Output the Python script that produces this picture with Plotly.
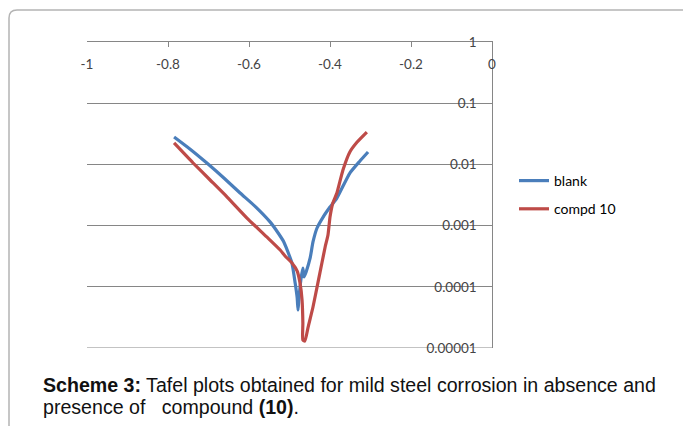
import plotly.graph_objects as go

# Potential (V) and current density (log scale)
blank_x = [-0.785, -0.746, -0.704, -0.662, -0.622, -0.583, -0.548, -0.528, -0.514, -0.501,
           -0.494, -0.486, -0.481, -0.479, -0.477, -0.472, -0.467, -0.464, -0.459, -0.449,
           -0.442, -0.432, -0.417, -0.400, -0.383, -0.351, -0.326, -0.306]
blank_y = [0.0281, 0.0179, 0.01054, 0.0060, 0.00341, 0.00201, 0.00115, 0.000757, 0.00054, 0.000331,
           0.000245, 0.000115, 6.56e-5, 4.18e-5, 6.08e-5, 0.000129, 0.000203, 0.000145, 0.000175, 0.000296,
           0.00054, 0.000914, 0.00138, 0.00201, 0.00282, 0.00723, 0.01137, 0.01595]

compd_x = [-0.785, -0.738, -0.696, -0.654, -0.605, -0.556, -0.523, -0.511, -0.494, -0.481,
           -0.474, -0.469, -0.467, -0.467, -0.462, -0.454, -0.442, -0.430, -0.420, -0.412,
           -0.405, -0.400, -0.393, -0.383, -0.368, -0.351, -0.333, -0.309]
compd_y = [0.0224, 0.01054, 0.00556, 0.00293, 0.00133, 0.000652, 0.000399, 0.000319, 0.000245, 0.000181,
           0.000115, 6.08e-5, 2.56e-5, 1.35e-5, 1.30e-5, 2.20e-5, 4.68e-5, 0.000115, 0.000245, 0.000447,
           0.000702, 0.00138, 0.00234, 0.00341, 0.0081, 0.01595, 0.0232, 0.0338]

x_ticks = [-1, -0.8, -0.6, -0.4, -0.2, 0]
x_ticktext = ["-1", "-0.8", "-0.6", "-0.4", "-0.2", "0"]
y_ticks = [1e-5, 1e-4, 1e-3, 1e-2, 1e-1, 1]
y_ticktext = ["0.00001", "0.0001", "0.001", "0.01", "0.1", "1"]

series_names = ["blank", "compd 10"]
colors = ["#4A7EBB", "#BE4B48"]

W, H = 683, 426
L, R, T, B = 87, 191, 42, 78
pw, ph = W - L - R, H - T - B

def px(x):
    return (x - L) / pw

def py(y):
    return (H - B - y) / ph

fig = go.Figure()
for name, xs, ys, c in zip(series_names, [blank_x, compd_x], [blank_y, compd_y], colors):
    fig.add_trace(go.Scatter(x=xs, y=ys, mode="lines", name=name, legendgroup=name,
                             line=dict(color=c, width=3.2, shape="spline", smoothing=0.5)))

axis_gray = "#868686"
fig.update_layout(
    width=W, height=H,
    margin=dict(l=L, r=R, t=T, b=B),
    paper_bgcolor="white", plot_bgcolor="white",
    font=dict(family="Lato, Open Sans, sans-serif", size=13.5, color="#000000"),
    xaxis=dict(range=[x_ticks[0], x_ticks[-1]], side="top", tickvals=x_ticks, ticktext=x_ticktext,
               ticks="inside", ticklen=5, tickcolor=axis_gray,
               ticklabelposition="inside", ticklabeloverflow="allow", ticklabelstandoff=12,
               showline=True, linecolor=axis_gray, linewidth=1,
               showgrid=False, zeroline=False),
    yaxis=dict(type="log", range=[-5, 0], side="right", tickvals=y_ticks, ticktext=y_ticktext,
               ticks="inside", ticklen=5, tickcolor=axis_gray,
               ticklabelposition="inside", ticklabeloverflow="allow", ticklabelstandoff=10,
               showline=True, linecolor=axis_gray, linewidth=1,
               showgrid=True, gridcolor=axis_gray, gridwidth=1, zeroline=False),
    legend=dict(x=px(514), y=0.5, xanchor="left", yanchor="middle",
                font=dict(size=14), tracegroupgap=7, bgcolor="rgba(0,0,0,0)"),
    showlegend=True,
)

# bottom gridline at the lowest decade (plotly omits it at the plot edge)
fig.add_shape(type="line", xref="x", yref="y", x0=x_ticks[0], x1=x_ticks[-1],
              y0=y_ticks[0], y1=y_ticks[0], line=dict(color=axis_gray, width=1), layer="below")

# caption
cap_font = dict(family="Liberation Sans, Arial, sans-serif", size=19.6, color="#111111")
fig.add_annotation(xref="paper", yref="paper", x=px(41), y=py(385), xanchor="left", yanchor="middle",
                   text="<b>Scheme 3:</b> Tafel plots obtained for mild steel corrosion in absence and",
                   showarrow=False, font=cap_font)
fig.add_annotation(xref="paper", yref="paper", x=px(41), y=py(407), xanchor="left", yanchor="middle",
                   text="presence of \u00a0 compound <b>(10)</b>.",
                   showarrow=False, font=cap_font)

# rounded frame
path = (f"M {px(9)},{py(440)} L {px(9)},{py(18)} Q {px(9)},{py(10)} {px(17)},{py(10)} "
        f"L {px(700)},{py(10)}")
fig.add_shape(type="path", xref="paper", yref="paper", path=path,
              line=dict(color="#b4b4b4", width=1.5))

fig.write_html("out.html")
